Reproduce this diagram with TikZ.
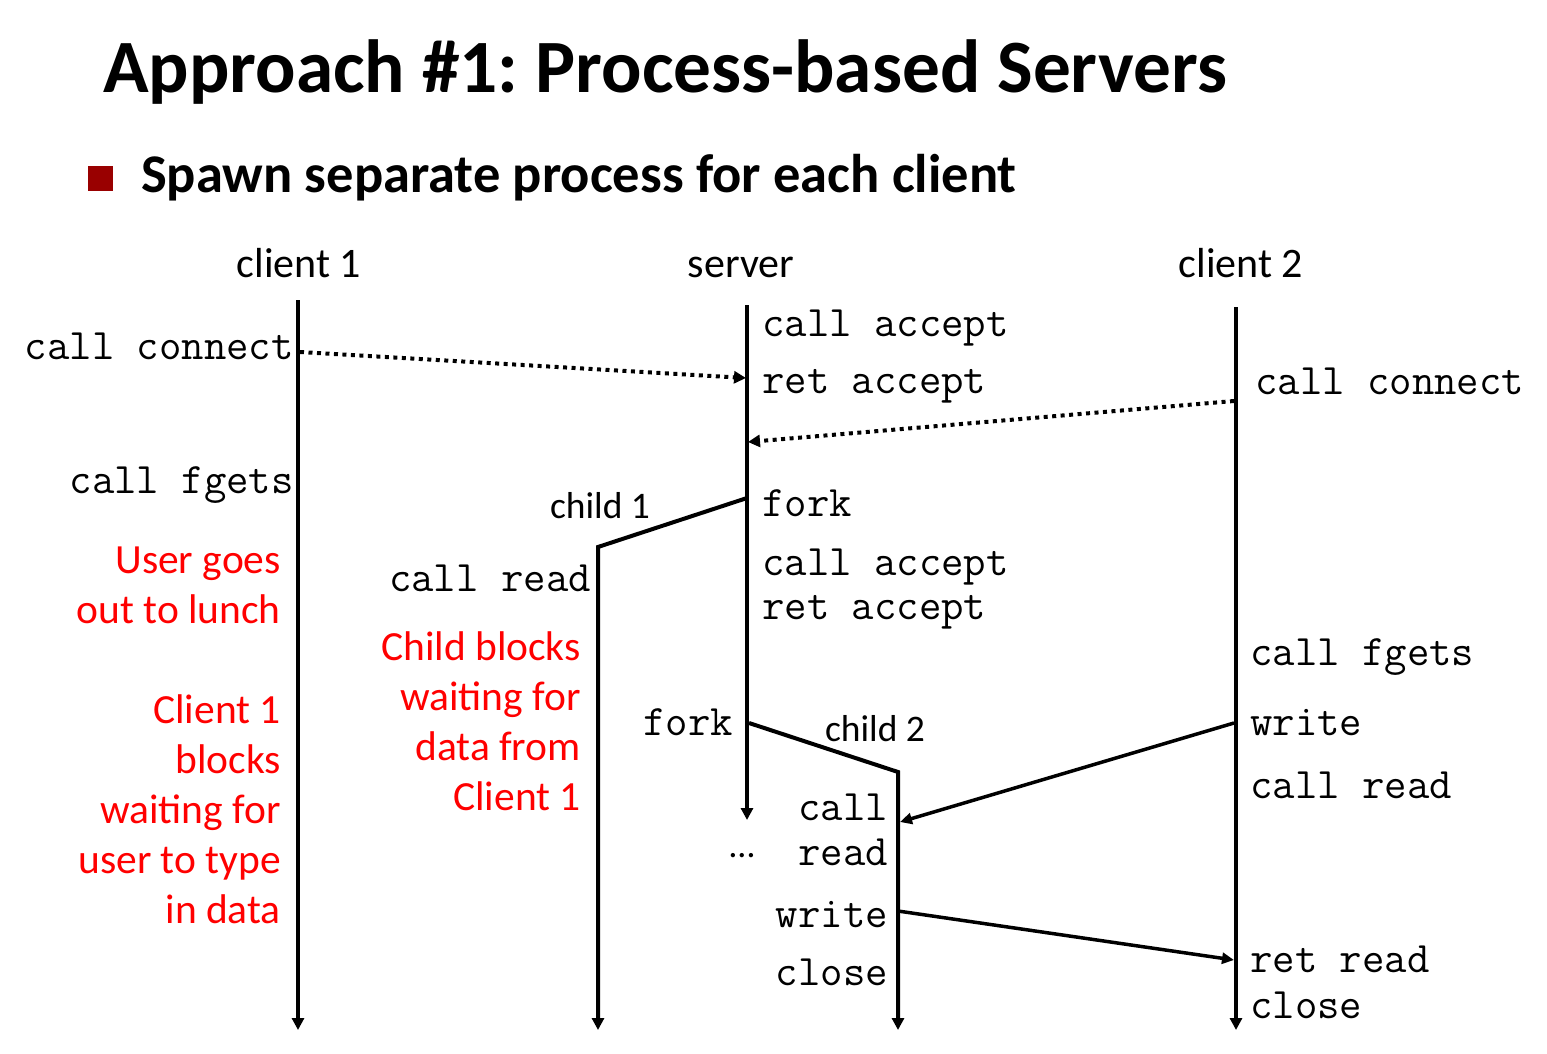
\documentclass[tikz,border=0pt]{standalone}
\usepackage{fontspec}
\setmainfont{Carlito}
\definecolor{redtxt}{RGB}{255,0,0}
\definecolor{bulletred}{RGB}{153,0,0}
\usetikzlibrary{arrows.meta}
\frenchspacing
\begin{document}
\begin{tikzpicture}[x=1pt,y=-1pt,
  mono/.style={font=\ttfamily\fontsize{43.5}{48}\selectfont, inner sep=0pt},
  hdr/.style={font=\fontsize{42}{50}\selectfont, inner sep=0pt, anchor=base},
  childlbl/.style={font=\fontsize{37.5}{44}\selectfont, inner sep=0pt, anchor=base},
  redline/.style={font=\fontsize{41.5}{50}\selectfont, text=redtxt, inner sep=0pt, anchor=base east},
  lw/.style={line width=4pt},
  tip/.style={-{Triangle[length=12pt,width=12pt]}},
  msgdot/.style={line width=4pt, dash pattern=on 4pt off 4.5pt, -{Triangle[length=12pt,width=12pt]}},
  msg/.style={line width=3.5pt, -{Triangle[length=12pt,width=11pt]}}
]
\useasboundingbox[fill=white] (0,0) rectangle (1547,1054);

% title
\node[font=\bfseries\fontsize{75.3}{90}\selectfont, inner sep=0pt, anchor=base west] (title) at (103,93) {Approach \#1: Process-based Servers};
\fill[bulletred] (88,166) rectangle (113,191);
\node[font=\bfseries\fontsize{54.5}{64}\selectfont, inner sep=0pt, anchor=base west] (sub) at (141,192) {Spawn separate process for each client};

% headers
\node[hdr] (h1) at (299,277) {client 1};
\node[hdr] (h2) at (741,277) {server};
\node[hdr] (h3) at (1241,277) {client 2};

% timeline coordinates
\coordinate (c1top) at (298,300);
\coordinate (c1bot) at (298,1030);
\coordinate (stop) at (747,305);
\coordinate (sbot) at (747,820);
\coordinate (c2top) at (1236,307);
\coordinate (c2bot) at (1236,1030);
\coordinate (f1) at (747,498);
\coordinate (k1top) at (598,547);
\coordinate (k1bot) at (598,1030);
\coordinate (f2) at (749,723);
\coordinate (k2top) at (898,772);
\coordinate (k2bot) at (898,1030);

\draw[lw,tip] (c1top) -- (c1bot);
\draw[lw,tip] (stop) -- (sbot);
\draw[lw,tip] (c2top) -- (c2bot);
\draw[lw,tip] (f1) -- (k1top) -- (k1bot);
\draw[lw,tip] (f2) -- (k2top) -- (k2bot);

% messages
\coordinate (m1a) at (300,352);
\coordinate (m1b) at (746,378);
\coordinate (m2a) at (1234,401);
\coordinate (m2b) at (748,442);
\coordinate (m3a) at (1234,723);
\coordinate (m3b) at (900,822);
\coordinate (m4a) at (898,911);
\coordinate (m4b) at (1234,960);
\draw[msgdot] (m1a) -- (m1b);
\draw[msgdot] (m2a) -- (m2b);
\draw[msg] (m3a) -- (m3b);
\draw[msg] (m4a) -- (m4b);

% client 1 texts
\node[mono, anchor=base east] (t1) at (294,359) {call connect};
\node[mono, anchor=base east] (t2) at (294,493) {call fgets};

% server texts
\node[mono, anchor=base west] (s1) at (762,336) {call accept};
\node[mono, anchor=base west] (s2) at (762,393) {ret accept};
\node[mono, anchor=base west] (s3) at (762,516) {fork};
\node[mono, anchor=base west] (s4) at (762,575) {call accept};
\node[mono, anchor=base west] (s5) at (762,619) {ret accept};
\node[mono, anchor=base east] (s6) at (733,735) {fork};
\node[font=\fontsize{36}{40}\selectfont, inner sep=0pt, anchor=base] (dots) at (742,857) {\ldots};

% child 1
\node[childlbl] (ch1) at (600,518) {child 1};
\node[mono, anchor=base east] (k1t) at (591,591) {call read};

% child 2
\node[childlbl] (ch2) at (875,741) {child 2};
\node[mono, anchor=base east] (k2a) at (888,820) {call};
\node[mono, anchor=base east] (k2b) at (888,865) {read};
\node[mono, anchor=base east] (k2c) at (888,927) {write};
\node[mono, anchor=base east] (k2d) at (888,985) {close};

% client 2 texts
\node[mono, anchor=base west] (r1) at (1255,394) {call connect};
\node[mono, anchor=base west] (r2) at (1250,665) {call fgets};
\node[mono, anchor=base west] (r3) at (1250,735) {write};
\node[mono, anchor=base west] (r4) at (1250,798) {call read};
\node[mono, anchor=base west] (r5) at (1250,972) {ret read};
\node[mono, anchor=base west] (r6) at (1250,1018) {close};

% red notes
\node[redline] (u1) at (281,573) {User goes};
\node[redline] (u2) at (281,623) {out to lunch};
\node[redline] (b1) at (281,723) {Client 1};
\node[redline] (b2) at (281,773) {blocks};
\node[redline] (b3) at (281,823) {waiting for};
\node[redline] (b4) at (281,873) {user to type};
\node[redline] (b5) at (281,923) {in data};
\node[redline] (w1) at (581,660) {Child blocks};
\node[redline] (w2) at (581,710) {waiting for};
\node[redline] (w3) at (581,760) {data from};
\node[redline] (w4) at (581,810) {Client 1};
\end{tikzpicture}
\end{document}
